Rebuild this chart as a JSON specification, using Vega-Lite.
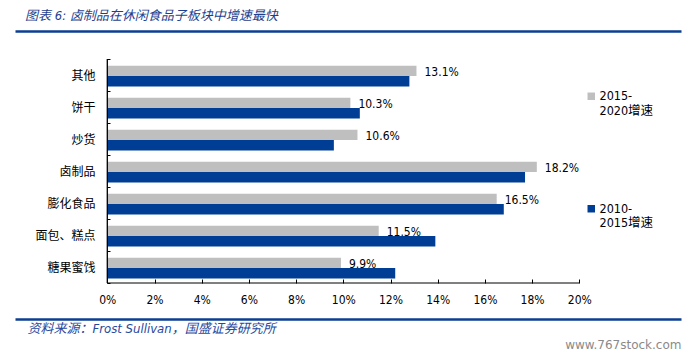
{
  "$schema": "https://vega.github.io/schema/vega-lite/v6.json",
  "width": 666,
  "height": 288,
  "autosize": {"type": "none"},
  "padding": {"left": 15, "top": 31, "right": 8, "bottom": 37},
  "background": "white",
  "title": {
    "text": "图表 6:  卤制品在休闲食品子板块中增速最快",
    "anchor": "start",
    "frame": "group",
    "dx": 10,
    "dy": 18,
    "offset": 7,
    "baseline": "bottom",
    "font": "DejaVu Sans Condensed, Noto Sans CJK SC",
    "fontSize": 13,
    "fontStyle": "italic",
    "fontWeight": "normal",
    "color": "#1f3f8f"
  },
  "config": {"view": {"stroke": null}, "axis": {"grid": false}},
  "data": {
    "values": [
      {"cat": "其他", "series": "2015-2020增速", "value": 0.131},
      {"cat": "其他", "series": "2010-2015增速", "value": 0.128},
      {"cat": "饼干", "series": "2015-2020增速", "value": 0.103},
      {"cat": "饼干", "series": "2010-2015增速", "value": 0.107},
      {"cat": "炒货", "series": "2015-2020增速", "value": 0.106},
      {"cat": "炒货", "series": "2010-2015增速", "value": 0.096},
      {"cat": "卤制品", "series": "2015-2020增速", "value": 0.182},
      {"cat": "卤制品", "series": "2010-2015增速", "value": 0.177},
      {"cat": "膨化食品", "series": "2015-2020增速", "value": 0.165},
      {"cat": "膨化食品", "series": "2010-2015增速", "value": 0.168},
      {"cat": "面包、糕点", "series": "2015-2020增速", "value": 0.115},
      {"cat": "面包、糕点", "series": "2010-2015增速", "value": 0.139},
      {"cat": "糖果蜜饯", "series": "2015-2020增速", "value": 0.099},
      {"cat": "糖果蜜饯", "series": "2010-2015增速", "value": 0.122}
    ]
  },
  "layer": [
    {
      "layer": [
        {
          "mark": {"type": "bar"},
          "encoding": {
            "y": {
              "field": "cat",
              "type": "nominal",
              "scale": {
                "domain": ["其他", "饼干", "炒货", "卤制品", "膨化食品", "面包、糕点", "糖果蜜饯"],
                "paddingInner": 0,
                "paddingOuter": 1,
                "align": 0.4375
              },
              "axis": {
                "orient": "left",
                "offset": -92,
                "domain": false,
                "ticks": true,
                "tickBand": "extent",
                "tickSize": -3,
                "tickColor": "black",
                "tickWidth": 1,
                "labelFont": "Noto Sans CJK SC",
                "labelFontSize": 12,
                "labelColor": "black",
                "labelPadding": 15,
                "title": null,
                "grid": false
              }
            },
            "yOffset": {
              "field": "series",
              "type": "nominal",
              "scale": {
                "domain": ["2015-2020增速", "2010-2015增速"],
                "paddingInner": 0,
                "paddingOuter": 0.538,
                "align": 0.6
              }
            },
            "x": {
              "field": "value",
              "type": "quantitative",
              "scale": {"domain": [-0.03911, 0.24309], "nice": false, "zero": false},
              "axis": {
                "orient": "bottom",
                "offset": -36,
                "values": [0, 0.02, 0.04, 0.06, 0.08, 0.1, 0.12, 0.14, 0.16, 0.18, 0.2],
                "format": ".0%",
                "domain": false,
                "ticks": true,
                "tickSize": -4,
                "tickColor": "black",
                "tickWidth": 1,
                "labelFont": "DejaVu Sans Condensed",
                "labelFontSize": 12,
                "labelColor": "black",
                "labelPadding": 15,
                "labelFlush": false,
                "grid": false,
                "title": "www.767stock.com",
                "titleX": 666,
                "titleY": 65,
                "titleAlign": "right",
                "titleAnchor": null,
                "titleBaseline": "alphabetic",
                "titleFont": "DejaVu Sans",
                "titleFontSize": 12,
                "titleFontWeight": "normal",
                "titleColor": "#8a8a8a"
              }
            },
            "x2": {"datum": 0},
            "color": {
              "field": "series",
              "type": "nominal",
              "scale": {"domain": ["2015-2020增速", "2010-2015增速"], "range": ["#bfbfbf", "#003e95"]},
              "legend": {
                "orient": "none",
                "legendX": 570,
                "legendY": 59,
                "title": null,
                "symbolType": "square",
                "symbolSize": 56,
                "symbolStrokeWidth": 0,
                "labelFont": "DejaVu Sans Condensed, Noto Sans CJK SC",
                "labelFontSize": 12.5,
                "labelColor": "black",
                "labelExpr": "[slice(datum.label, 0, 5), slice(datum.label, 5)]",
                "labelBaseline": "middle",
                "rowPadding": 84.5,
                "labelOffset": 2,
                "labelLimit": 0
              }
            }
          }
        },
        {
          "transform": [{"filter": "datum.series == '2015-2020增速'"}],
          "mark": {"type": "text", "align": "left", "baseline": "middle", "dx": 8, "dy": 1, "font": "DejaVu Sans Condensed", "fontSize": 12, "color": "black"},
          "encoding": {
            "y": {"field": "cat", "type": "nominal"},
            "yOffset": {"field": "series", "type": "nominal"},
            "x": {"field": "value", "type": "quantitative"},
            "text": {"field": "value", "type": "quantitative", "format": ".1%"}
          }
        },
        {
          "transform": [{"filter": "datum.series == '2015-2020增速'"}],
          "mark": {"type": "rect", "fill": "transparent", "stroke": "black", "strokeWidth": 1},
          "encoding": {
            "y": {"field": "cat", "type": "nominal"},
            "x": {"datum": 0},
            "x2": {"datum": 0}
          }
        },
        {
          "transform": [{"filter": "datum.cat == '糖果蜜饯' && datum.series == '2015-2020增速'"}],
          "mark": {"type": "rule", "color": "black", "strokeWidth": 1},
          "encoding": {
            "y": {"field": "cat", "type": "nominal", "bandPosition": 1},
            "x": {"datum": 0},
            "x2": {"datum": 0.2}
          }
        }
      ]
    },
    {
      "mark": {"type": "point", "opacity": 0},
      "encoding": {
        "x": {
          "datum": 0,
          "type": "quantitative",
          "scale": {"domain": [0, 1]},
          "axis": {"orient": "top", "domain": true, "domainColor": "#0c3e93", "domainWidth": 2.5, "ticks": false, "labels": false, "grid": false, "title": null, "offset": 0}
        }
      }
    },
    {
      "mark": {"type": "point", "opacity": 0},
      "encoding": {
        "x": {
          "datum": 0,
          "type": "quantitative",
          "scale": {"domain": [0, 1]},
          "axis": {
            "orient": "bottom",
            "domain": true,
            "domainColor": "#0c3e93",
            "domainWidth": 2.5,
            "ticks": false,
            "labels": false,
            "grid": false,
            "offset": 0,
            "title": "资料来源：Frost Sullivan，国盛证券研究所",
            "titleX": 12,
            "titleY": 13,
            "titleAlign": "left",
            "titleAnchor": null,
            "titleBaseline": "alphabetic",
            "titleFont": "DejaVu Sans Condensed, Noto Sans CJK SC",
            "titleFontSize": 13,
            "titleFontStyle": "italic",
            "titleFontWeight": "normal",
            "titleColor": "#1f4a9e"
          }
        }
      }
    }
  ],
  "resolve": {"scale": {"x": "independent"}, "axis": {"x": "independent"}}
}
